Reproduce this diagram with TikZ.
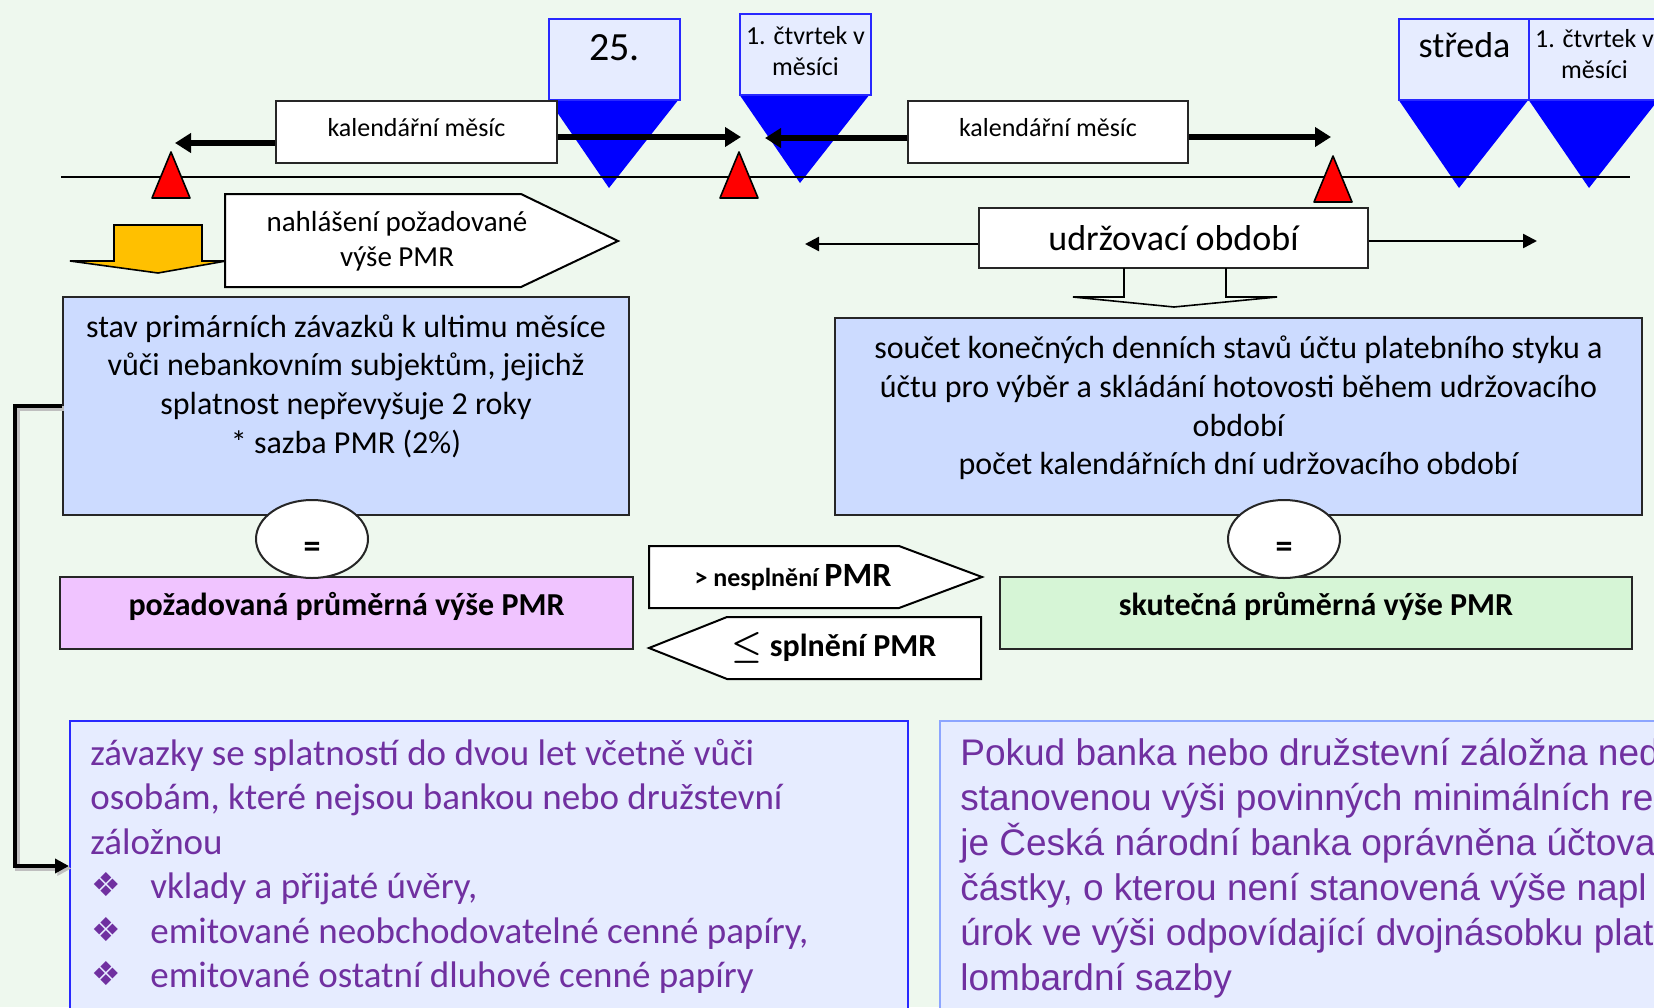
\documentclass[tikz,border=0pt]{standalone}
\usepackage{fontspec}
\setmainfont{Carlito}
\newfontfamily\arialfont{Liberation Sans}
\newfontfamily\symfont{DejaVu Sans}
\usepackage{xcolor}
\usetikzlibrary{arrows.meta, positioning, shapes.geometric}
\definecolor{pagebg}{RGB}{238,248,238}
\definecolor{boxblue}{RGB}{204,219,255}
\definecolor{paleblue}{RGB}{230,236,255}
\definecolor{tagblue}{RGB}{0,0,255}
\definecolor{tagedge}{RGB}{40,40,255}
\definecolor{softedge}{RGB}{140,165,255}
\definecolor{pinkbox}{RGB}{240,196,255}
\definecolor{greenbox}{RGB}{214,245,214}
\definecolor{purpletext}{RGB}{112,48,160}
\definecolor{markred}{RGB}{255,0,0}
\definecolor{arrowyellow}{RGB}{255,192,0}
\tikzset{%
	every box/.style={
		draw=black!85,
		line width=1pt,
		inner sep=0pt
	},
	tag box/.style={
		draw=tagedge,
		fill=paleblue,
		line width=1pt,
		minimum width=65.5pt,
		minimum height=40.5pt,
		inner sep=0pt
	},
	tag tip/.style={fill=tagblue},
	red mark/.style={draw=black, fill=markred, line width=0.8pt, line join=round},
	plain text/.style={inner sep=0pt, align=center},
	fat arrow/.style={line width=3pt, -{Triangle[length=8pt,width=9.5pt]}},
	thin arrow/.style={line width=1.2pt, -{Triangle[length=7pt,width=7pt]}},
	block arrow/.style={draw=black, line width=0.8pt, line join=miter},
	link arrow/.style={line width=2pt, -{Triangle[length=7pt,width=7pt]},
		preaction={draw=black!25, line width=2.5pt, transform canvas={shift={(1.2pt,-1.2pt)}}}},
	bullet/.style={anchor=base west, inner sep=0pt, text=purpletext, font=\symfont\fontsize{16.5}{18}\selectfont}
}

\begin{document}
\begin{tikzpicture}[x=0.5pt, y=-0.5pt]
	% Canvas
	\useasboundingbox (0,0) rectangle (1654,1007);
	\clip (0,0) rectangle (1654,1007);
	\fill[pagebg] (0,0) rectangle (1654,1007);
	
	% Date tags above the time line
	\foreach \xl/\yt/\fs/\dy/\txt [count=\i] in {548/18/20/5.75/{25.}, 739/13/13/1.75/{1. čtvrtek v\\měsíci}, 1398/18/18/7.25/{středa}, 1528/18/13/2.5/{1. čtvrtek v\\měsíci}} {
		\fill[tag tip] (\xl,\yt+81) -- (\xl+131,\yt+81) -- (\xl+61,\yt+170) -- cycle;
		\node[tag box, anchor=north west] (tag\i) at (\xl,\yt) {};
		\node[plain text, font=\fontsize{\fs}{15.5}\selectfont] (tagtext\i) at ([yshift=\dy pt]tag\i.center) {\txt};
	}
	
	% Time line
	\coordinate (lineStart) at (61,177);
	\coordinate (lineEnd) at (1630,177);
	\draw[line width=1pt] (lineStart) -- (lineEnd);
	
	% Red marks on the time line
	\foreach \x/\yb [count=\i] in {171/198, 739/198, 1333/202} {
		\draw[red mark] (\x-19,\yb) -- (\x+19,\yb) -- (\x,\yb-46) -- cycle;
	}
	
	% Calendar months
	\node[every box, fill=white, minimum width=140.5pt, minimum height=31pt] (month1) at (416.5,132) {};
	\node[plain text, font=\fontsize{13}{15}\selectfont] (month1text) at (416.5,128) {kalendářní měsíc};
	\node[every box, fill=white, minimum width=140pt, minimum height=31pt] (month2) at (1048,132) {};
	\node[plain text, font=\fontsize{13}{15}\selectfont] (month2text) at (1048,128) {kalendářní měsíc};
	\coordinate (month1L) at (175,143);
	\coordinate (month1R) at (741,137);
	\coordinate (month2L) at (765,138);
	\coordinate (month2R) at (1331,137);
	\draw[fat arrow] (month1.west |- month1L) -- (month1L);
	\draw[fat arrow] (month1.east |- month1R) -- (month1R);
	\draw[fat arrow] (month2.west |- month2L) -- (month2L);
	\draw[fat arrow] (month2.east |- month2R) -- (month2R);
	
	% Reporting arrow
	\draw[block arrow, fill=arrowyellow] (114,225) -- (202,225) -- (202,261) -- (226,261) -- (158,273) -- (70,261) -- (114,261) -- cycle;
	\draw[block arrow, fill=white, line width=1pt] (225,194) -- (521,194) -- (618,241) -- (521,287) -- (225,287) -- cycle;
	\node[plain text, font=\fontsize{14.5}{17.5}\selectfont] (report) at (397,241) {nahlášení požadované\\výše PMR};
	
	% Maintenance period
	\node[every box, fill=white, minimum width=194.5pt, minimum height=30pt, font=\fontsize{18}{20}\selectfont] (period) at (1173.5,238) {udržovací období};
	\coordinate (periodL) at (805,244);
	\coordinate (periodR) at (1537,241);
	\draw[thin arrow] (period.west |- periodL) -- (periodL);
	\draw[thin arrow] (period.east |- periodR) -- (periodR);
	\draw[block arrow] (1124,268) -- (1124,297) -- (1073,297) -- (1174,307) -- (1277,297) -- (1226,297) -- (1226,268);
	
	% Formula boxes
	\node[every box, fill=boxblue, minimum width=283pt, minimum height=109pt] (stock) at (346,406) {};
	\node[plain text, font=\fontsize{16}{19.3}\selectfont] (stocktext) at (346,386) {stav primárních závazků k ultimu měsíce\\vůči nebankovním subjektům, jejichž\\splatnost nepřevyšuje 2 roky\\* sazba PMR (2\%)};
	\node[every box, fill=boxblue, minimum width=403.5pt, minimum height=98.5pt] (sum) at (1238.5,416.5) {};
	\node[plain text, font=\fontsize{16}{19.3}\selectfont] (sumtext) at (1238.5,408) {součet konečných denních stavů účtu platebního styku a\\účtu pro výběr a skládání hotovosti během udržovacího\\období\\počet kalendářních dní udržovacího období};
	
	% Results
	\node[every box, fill=pinkbox, minimum width=286.5pt, minimum height=36pt] (required) at (346.5,613) {};
	\node[plain text, font=\bfseries\fontsize{16}{19}\selectfont] (requiredtext) at (346.5,606) {požadovaná průměrná výše PMR};
	\node[every box, fill=greenbox, minimum width=316pt, minimum height=36pt] (actual) at (1316,613) {};
	\node[plain text, font=\bfseries\fontsize{16}{19}\selectfont] (actualtext) at (1316,606) {skutečná průměrná výše PMR};
	\foreach \side/\x in {L/312, R/1284} {
		\node[ellipse, every box, fill=white, minimum width=56pt, minimum height=39pt] (eq\side) at (\x,539) {};
		\node[plain text, font=\bfseries\fontsize{17}{19}\selectfont] (eqtext\side) at (\x,550) {=};
	}
	
	% Comparison arrows
	\draw[block arrow, fill=white, line width=1pt] (649,546) -- (899,546) -- (982,577) -- (899,608) -- (649,608) -- cycle;
	\node[plain text, font=\bfseries\fontsize{13}{17}\selectfont] (breach) at (793,578) {> nesplnění {\fontsize{17}{19}\selectfont PMR}};
	\draw[block arrow, fill=white, line width=1pt] (727,617) -- (981,617) -- (981,679) -- (727,679) -- (649,648) -- cycle;
	\node[plain text, font=\boldmath\bfseries\fontsize{16}{19}\selectfont] (met) at (834,648) {$\leq$ splnění PMR};
	
	% Liabilities box
	\node[every box, draw=tagedge, fill=paleblue, minimum width=419pt, minimum height=145pt] (liab) at (489,866) {};
	\foreach \txt [count=\i] in {závazky se splatností do dvou let včetně vůči, osobám{,} které nejsou bankou nebo družstevní, záložnou} {
		\node[anchor=base west, inner sep=0pt, text=purpletext, font=\fontsize{18.5}{22}\selectfont] (liab\i) at (90,765+44.5*\i-44.5) {\txt};
	}
	\foreach \txt [count=\i from 4] in {vklady a přijaté úvěry{,}, emitované neobchodovatelné cenné papíry{,}, emitované ostatní dluhové cenné papíry} {
		\node[bullet] (mark\i) at (91,763+44.5*\i-44.5) {❖};
		\node[anchor=base west, inner sep=0pt, text=purpletext, font=\fontsize{18.5}{22}\selectfont] (liab\i) at (150,765+44.5*\i-44.5) {\txt};
	}
	
	% Link from the stock box to the liabilities
	\coordinate (bend) at (15,0);
	\draw[link arrow] (stock.west) -- (stock.west -| bend) |- (liab.west);
	
	% Penalty box
	\node[every box, draw=softedge, fill=paleblue, minimum width=362pt, minimum height=145pt] (penalty) at (1302,866) {};
	\foreach \txt [count=\i] in {Pokud banka nebo družstevní záložna ned, stanovenou výši povinných minimálních re, je Česká národní banka oprávněna účtova, částky{,} o kterou není stanovená výše napl, úrok ve výši odpovídající dvojnásobku plat, lombardní sazby} {
		\node[anchor=base west, inner sep=0pt, text=purpletext, font=\arialfont\fontsize{18.5}{22}\selectfont] (pen\i) at (960,765+45*\i-45) {\txt};
	}
\end{tikzpicture}
\end{document}
